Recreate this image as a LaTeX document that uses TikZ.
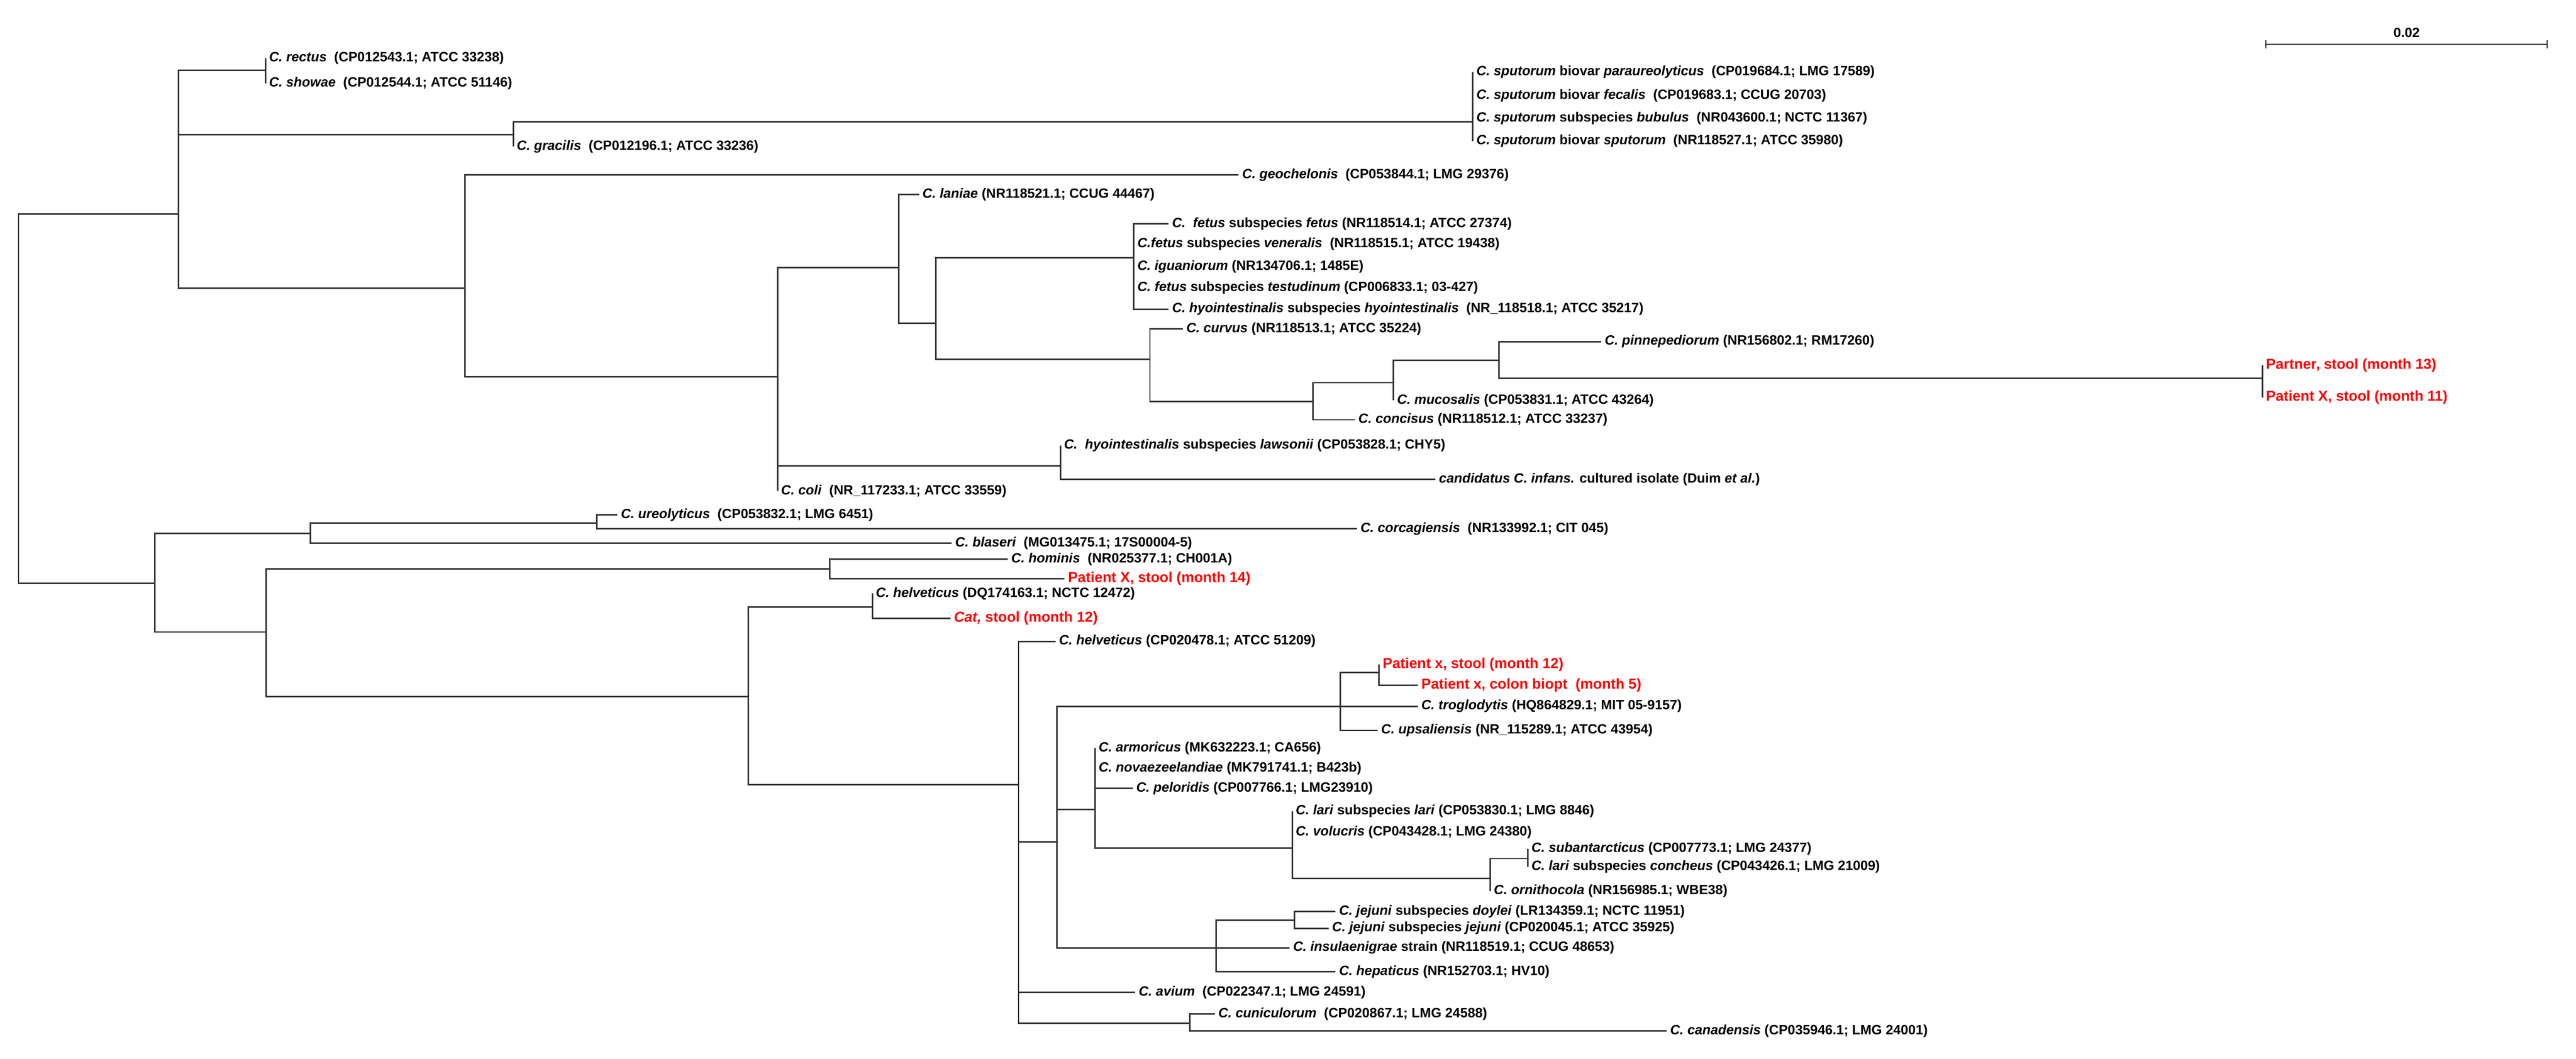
\documentclass[tikz,border=0pt]{standalone}
\usepackage{fontspec}
\setmainfont{Liberation Sans}
\begin{document}
\begin{tikzpicture}[x=1pt,y=-1pt,
  br/.style={draw=black!80,line width=0.9pt},
  lab/.style={anchor=west,inner xsep=2pt,inner ysep=0pt,font=\fontsize{8.2}{9}\selectfont\bfseries},
  red/.style={lab,text={rgb,255:red,255;green,0;blue,0},font=\fontsize{8.8}{10}\selectfont\bfseries}]
\useasboundingbox (0,0) rectangle (1568.1,644.6);
\newcommand{\tnode}[4]{\coordinate (#1) at (#2,#3); \draw[br] (#4) |- (#1);}
\newcommand{\tleaf}[6][lab]{\coordinate (#2) at (#3,#4); \draw[br] (#5) |- (#2); \node[#1] (#2-l) at (#2) {#6};}
\newcommand{\I}[1]{\textit{#1}}
% root
\coordinate (R) at (11.3,242);
\tnode{A}{108.8}{130.2}{R}
\tnode{B}{161.6}{42.7}{A}
\tleaf{rectus}{161.6}{35.5}{B}{\I{C. rectus}\ \ (CP012543.1; ATCC 33238)}
\tleaf{showae}{161.6}{50.7}{B}{\I{C. showae}\ \ (CP012544.1; ATCC 51146)}
\tnode{C}{312.4}{82}{A}
\tnode{D}{896.6}{74.3}{C}
\tleaf{sp1}{896.6}{43.8}{D}{\I{C. sputorum} biovar \I{paraureolyticus}\ \ (CP019684.1; LMG 17589)}
\tleaf{sp2}{896.6}{58.2}{D}{\I{C. sputorum} biovar \I{fecalis}\ \ (CP019683.1; CCUG 20703)}
\tleaf{sp3}{896.6}{72}{D}{\I{C. sputorum} subspecies \I{bubulus}\ \ (NR043600.1; NCTC 11367)}
\tleaf{sp4}{896.6}{86}{D}{\I{C. sputorum} biovar \I{sputorum}\ \ (NR118527.1; ATCC 35980)}
\tleaf{gracilis}{312.4}{89.2}{C}{\I{C. gracilis}\ \ (CP012196.1; ATCC 33236)}
\tnode{E}{283}{175.4}{A}
\tleaf{geo}{754}{106.5}{E}{\I{C. geochelonis}\ \ (CP053844.1; LMG 29376)}
\tnode{F}{473.3}{229.3}{E}
\tnode{G}{547}{163}{F}
\tleaf{laniae}{559.4}{118.4}{G}{\I{C. laniae} (NR118521.1; CCUG 44467)}
\tnode{I}{569.6}{196.7}{G}
\tnode{J}{690.2}{157}{I}
\tleaf{fetus}{711.3}{136.2}{J}{\I{C.\ \ fetus} subspecies \I{fetus} (NR118514.1; ATCC 27374)}
\tleaf{vener}{690.2}{148.6}{J}{\I{C.fetus} subspecies \I{veneralis}\ \ (NR118515.1; ATCC 19438)}
\tleaf{iguan}{690.2}{162.5}{J}{\I{C. iguaniorum} (NR134706.1; 1485E)}
\tleaf{testud}{690.2}{175.3}{J}{\I{C. fetus} subspecies \I{testudinum} (CP006833.1; 03-427)}
\tleaf{hyoint}{711.3}{188.2}{J}{\I{C. hyointestinalis} subspecies \I{hyointestinalis}\ \ (NR\_118518.1; ATCC 35217)}
\tnode{K}{700}{218.8}{I}
\tleaf{curvus}{720}{200.3}{K}{\I{C. curvus} (NR118513.1; ATCC 35224)}
\tnode{L}{799.3}{244.6}{K}
\tnode{M}{848.3}{233}{L}
\tleaf{concisus}{824.7}{255.6}{L}{\I{C. concisus} (NR118512.1; ATCC 33237)}
\tnode{N}{912.6}{219.5}{M}
\tleaf{mucos}{848.3}{243.8}{M}{\I{C. mucosalis} (CP053831.1; ATCC 43264)}
\tleaf{pinne}{974.7}{208}{N}{\I{C. pinnepediorum} (NR156802.1; RM17260)}
\tnode{O}{1377.2}{230.3}{N}
\tleaf[red]{partner}{1377.2}{222.5}{O}{Partner, stool (month 13)}
\tleaf[red]{px11}{1377.2}{242}{O}{Patient X, stool (month 11)}
\tnode{H}{645.5}{283.6}{F}
\tleaf{lawson}{645.5}{271.2}{H}{\I{C.\ \ hyointestinalis} subspecies \I{lawsonii} (CP053828.1; CHY5)}
\tleaf{infans}{873.8}{291.8}{H}{\I{candidatus C. infans.} cultured isolate (Duim \I{et al.})}
\tleaf{coli}{473.3}{299}{F}{\I{C. coli}\ \ (NR\_117233.1; ATCC 33559)}
% bottom clade
\tnode{P}{94.3}{355.3}{R}
\tnode{Q}{189}{324.7}{P}
\tnode{T}{363.4}{318.6}{Q}
\tleaf{ureo}{375.8}{313.5}{T}{\I{C. ureolyticus}\ \ (CP053832.1; LMG 6451)}
\tleaf{corca}{826}{322}{T}{\I{C. corcagiensis}\ \ (NR133992.1; CIT 045)}
\tleaf{blaseri}{579.3}{330.8}{Q}{\I{C. blaseri}\ \ (MG013475.1; 17S00004-5)}
\tnode{S}{162}{384.8}{P}
\tnode{U}{505}{346.3}{S}
\tleaf{hominis}{613.4}{340.4}{U}{\I{C. hominis}\ \ (NR025377.1; CH001A)}
\tleaf[red]{px14}{648}{352.4}{U}{Patient X, stool (month 14)}
\tnode{V}{455.6}{424.3}{S}
\tnode{W}{531}{369.7}{V}
\tleaf{helvDQ}{531}{361.4}{W}{\I{C. helveticus} (DQ174163.1; NCTC 12472)}
\tleaf[red]{cat}{578.5}{376.4}{W}{\I{Cat,} stool (month 12)}
\tnode{X}{620}{477.9}{V}
\tleaf{helvCP}{642.5}{390.5}{X}{\I{C. helveticus} (CP020478.1; ATCC 51209)}
\tnode{Y}{643.4}{512.6}{X}
\tnode{AA}{816}{430}{Y}
\tnode{AD}{839.5}{409.4}{AA}
\tleaf[red]{px12}{839.5}{404.5}{AD}{Patient x, stool (month 12)}
\tleaf[red]{colon}{863}{417.3}{AD}{Patient x, colon biopt\ \ (month 5)}
\tleaf{troglo}{863}{430}{AA}{\I{C. troglodytis} (HQ864829.1; MIT 05-9157)}
\tleaf{upsal}{838.6}{444.7}{AA}{\I{C. upsaliensis} (NR\_115289.1; ATCC 43954)}
\tnode{AB}{666.6}{492.9}{Y}
\tleaf{armor}{666.6}{455.5}{AB}{\I{C. armoricus} (MK632223.1; CA656)}
\tleaf{novae}{666.6}{467.8}{AB}{\I{C. novaezeelandiae} (MK791741.1; B423b)}
\tleaf{pelor}{689.5}{480.1}{AB}{\I{C. peloridis} (CP007766.1; LMG23910)}
\tnode{AE}{786.6}{516.3}{AB}
\tleaf{lari}{786.6}{494}{AE}{\I{C. lari} subspecies \I{lari} (CP053830.1; LMG 8846)}
\tleaf{volucris}{786.6}{506.7}{AE}{\I{C. volucris} (CP043428.1; LMG 24380)}
\tnode{AF}{907.2}{534.8}{AE}
\tnode{AG}{930.1}{522.8}{AF}
\tleaf{subant}{930.1}{516.7}{AG}{\I{C. subantarcticus} (CP007773.1; LMG 24377)}
\tleaf{conch}{930.1}{527.8}{AG}{\I{C. lari} subspecies \I{concheus} (CP043426.1; LMG 21009)}
\tleaf{ornith}{907.2}{542.6}{AF}{\I{C. ornithocola} (NR156985.1; WBE38)}
\tnode{AC}{740.4}{577.1}{Y}
\tnode{AH}{788}{560.3}{AC}
\tleaf{doylei}{813}{555}{AH}{\I{C. jejuni} subspecies \I{doylei} (LR134359.1; NCTC 11951)}
\tleaf{jejuni}{808.7}{565.2}{AH}{\I{C. jejuni} subspecies \I{jejuni} (CP020045.1; ATCC 35925)}
\tleaf{insul}{785}{577.1}{AC}{\I{C. insulaenigrae} strain (NR118519.1; CCUG 48653)}
\tleaf{hepat}{813}{591.6}{AC}{\I{C. hepaticus} (NR152703.1; HV10)}
\tleaf{avium}{691}{604.2}{X}{\I{C. avium}\ \ (CP022347.1; LMG 24591)}
\tnode{Z}{724.2}{623.1}{X}
\tleaf{cunic}{739.5}{617.4}{Z}{\I{C. cuniculorum}\ \ (CP020867.1; LMG 24588)}
\tleaf{canad}{1014.5}{627.7}{Z}{\I{C. canadensis} (CP035946.1; LMG 24001)}
% scale bar
\coordinate (s1) at (1379.3,27);
\coordinate (s2) at (1550.5,27);
\draw[br,line width=0.7pt] ([yshift=2.5pt]s1) -- ([yshift=-2.5pt]s1) (s1) -- (s2) ([yshift=2.5pt]s2) -- ([yshift=-2.5pt]s2);
\node[font=\fontsize{8.2}{9}\selectfont\bfseries] (scale) at (1465,20) {0.02};
\end{tikzpicture}
\end{document}
